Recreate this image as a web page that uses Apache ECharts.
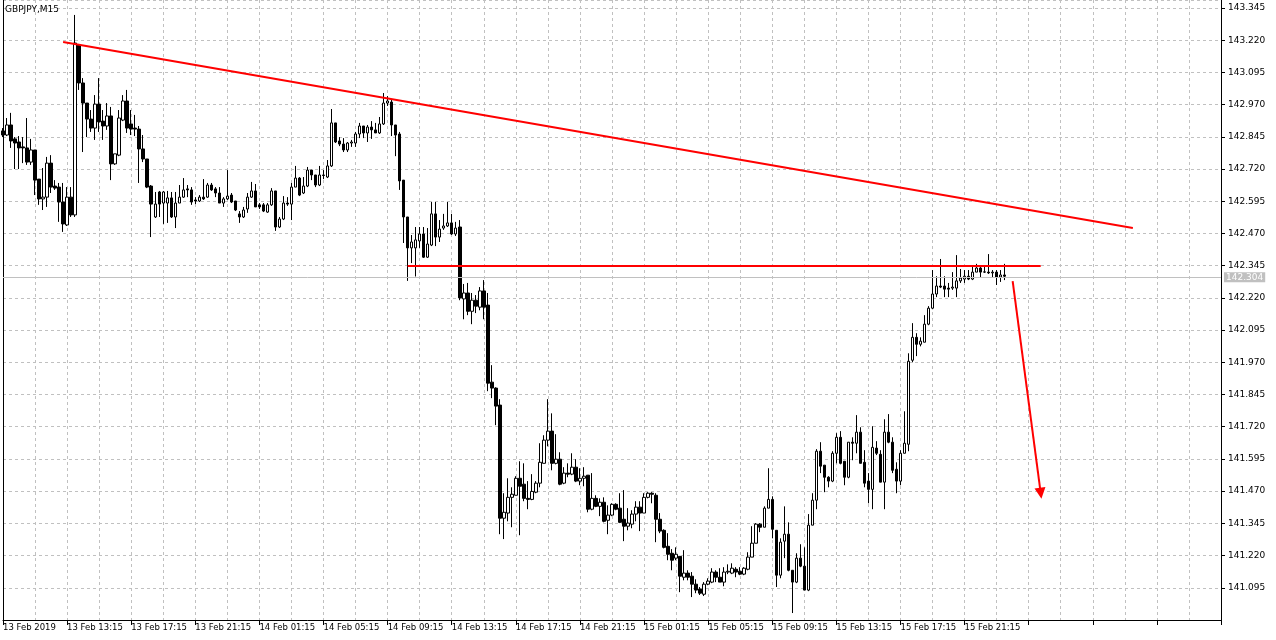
<!DOCTYPE html>
<html>
<head>
<meta charset="utf-8">
<script src="https://cdn.jsdelivr.net/npm/echarts@6/dist/echarts.min.js"></script>
<style>
html,body{margin:0;padding:0;background:#fff;}
#chart{width:1276px;height:640px;}
</style>
</head>
<body>
<div id="chart"></div>
<script>
const symbolName = 'GBPJPY,M15';
const tickLabels = ["13 Feb 2019","13 Feb 13:15","13 Feb 17:15","13 Feb 21:15","14 Feb 01:15","14 Feb 05:15","14 Feb 09:15","14 Feb 13:15","14 Feb 17:15","14 Feb 21:15","15 Feb 01:15","15 Feb 05:15","15 Feb 09:15","15 Feb 13:15","15 Feb 17:15","15 Feb 21:15"];
const barsPerLabel = 16;
const barsPerGrid = 8;
const totalSlots = 305;
const yMin = 140.970, yMax = 143.376, yStep = 0.125;

const open = [142.868,142.852,142.891,142.837,142.825,142.806,142.802,142.747,142.794,142.681,142.604,142.611,142.743,142.654,142.650,142.592,142.503,142.611,142.542,143.201,143.054,142.976,142.914,142.879,142.972,142.906,142.887,142.926,142.740,142.774,142.910,142.984,142.895,142.879,142.875,142.798,142.759,142.654,142.534,142.631,142.588,142.588,142.608,142.534,142.588,142.611,142.643,142.639,142.600,142.596,142.611,142.611,142.658,142.643,142.627,142.588,142.604,142.619,142.596,142.546,142.534,142.565,142.611,142.635,142.581,142.581,142.553,142.581,142.635,142.495,142.526,142.588,142.584,142.650,142.685,142.627,142.654,142.716,142.697,142.658,142.697,142.689,142.732,142.899,142.829,142.817,142.794,142.821,142.821,142.856,142.887,142.860,142.883,142.872,142.860,142.895,142.976,142.980,142.891,142.856,142.677,142.534,142.414,142.414,142.441,142.468,142.378,142.425,142.546,142.456,142.491,142.499,142.511,142.468,142.495,142.216,142.239,142.168,142.211,142.184,142.247,142.192,141.893,141.870,141.804,141.365,141.385,141.446,141.454,141.520,141.497,141.442,141.438,141.466,141.501,141.578,141.668,141.703,141.578,141.594,141.501,141.540,141.536,141.563,141.509,141.520,141.532,141.400,141.442,141.411,141.427,141.357,141.377,141.419,141.404,141.361,141.334,141.342,141.381,141.408,141.385,141.446,141.462,141.454,141.361,141.318,141.256,141.229,141.210,141.217,141.136,141.152,141.140,141.109,141.090,141.070,141.109,141.117,141.156,141.136,141.117,141.156,141.152,141.167,141.159,141.148,141.167,141.214,141.268,141.342,141.330,141.404,141.438,141.318,141.144,141.276,141.303,141.163,141.117,141.210,141.179,141.086,141.338,141.435,141.625,141.571,141.524,141.509,141.617,141.679,141.586,141.524,141.660,141.656,141.699,141.582,141.509,141.477,141.637,141.613,141.505,141.699,141.660,141.555,141.509,141.617,141.652,141.978,142.067,142.040,142.048,142.118,142.180,142.235,142.266,142.266,142.258,142.258,142.258,142.286,142.293,142.304,142.293,142.320,142.336,142.320,142.320,142.317,142.320,142.301,142.309];
const close = [142.852,142.891,142.829,142.821,142.802,142.802,142.747,142.794,142.677,142.604,142.611,142.743,142.650,142.646,142.592,142.507,142.611,142.542,143.209,143.054,142.976,142.914,142.879,142.972,142.903,142.887,142.926,142.740,142.779,142.918,142.984,142.879,142.875,142.875,142.798,142.759,142.650,142.584,142.584,142.584,142.631,142.608,142.534,142.588,142.611,142.639,142.639,142.592,142.596,142.611,142.604,142.658,142.639,142.627,142.588,142.604,142.615,142.592,142.561,142.534,142.561,142.611,142.635,142.573,142.573,142.557,142.581,142.635,142.495,142.526,142.588,142.584,142.650,142.685,142.619,142.654,142.716,142.697,142.658,142.697,142.695,142.732,142.899,142.825,142.817,142.794,142.821,142.825,142.856,142.887,142.860,142.883,142.872,142.860,142.895,142.976,142.984,142.891,142.852,142.674,142.534,142.414,142.437,142.445,142.468,142.378,142.429,142.546,142.456,142.487,142.499,142.511,142.468,142.491,142.220,142.239,142.168,142.211,142.188,142.247,142.184,141.889,141.870,141.800,141.365,141.388,141.446,141.458,141.520,141.489,141.442,141.438,141.469,141.501,141.582,141.668,141.703,141.578,141.594,141.497,141.540,141.536,141.563,141.509,141.520,141.528,141.400,141.442,141.411,141.427,141.353,141.377,141.419,141.400,141.349,141.334,141.346,141.381,141.408,141.385,141.446,141.462,141.458,141.361,141.315,141.252,141.225,141.202,141.225,141.140,141.152,141.136,141.109,141.086,141.074,141.109,141.121,141.156,141.136,141.117,141.156,141.159,141.171,141.156,141.148,141.171,141.214,141.268,141.342,141.330,141.404,141.438,141.322,141.144,141.272,141.303,141.163,141.117,141.210,141.179,141.086,141.338,141.435,141.625,141.567,141.524,141.509,141.617,141.679,141.578,141.524,141.660,141.656,141.699,141.578,141.501,141.477,141.640,141.617,141.505,141.699,141.660,141.551,141.509,141.617,141.656,141.974,142.067,142.040,142.052,142.118,142.180,142.235,142.266,142.262,142.254,142.254,142.262,142.286,142.297,142.304,142.293,142.320,142.336,142.320,142.321,142.317,142.320,142.301,142.309,142.304];
const high = [142.879,142.918,142.938,142.844,142.848,142.844,142.918,142.837,142.794,142.681,142.724,142.767,142.774,142.677,142.666,142.666,142.650,142.650,143.318,143.201,143.073,142.976,142.949,143.007,143.073,142.949,142.976,142.961,142.779,142.949,143.007,143.027,142.949,142.930,142.887,142.852,142.759,142.658,142.631,142.635,142.635,142.635,142.631,142.631,142.658,142.685,142.658,142.650,142.611,142.619,142.681,142.666,142.666,142.650,142.650,142.611,142.716,142.627,142.596,142.557,142.573,142.627,142.670,142.662,142.588,142.588,142.588,142.646,142.635,142.534,142.615,142.611,142.666,142.732,142.689,142.689,142.728,142.716,142.697,142.732,142.716,142.755,142.953,142.899,142.844,142.840,142.825,142.833,142.864,142.899,142.887,142.891,142.906,142.899,142.922,143.015,143.003,142.988,142.891,142.864,142.677,142.534,142.464,142.495,142.495,142.495,142.491,142.592,142.592,142.522,142.546,142.592,142.546,142.515,142.522,142.274,142.278,142.239,142.231,142.262,142.289,142.239,141.959,141.873,141.827,141.462,141.520,141.485,141.528,141.586,141.578,141.509,141.536,141.509,141.656,141.687,141.827,141.772,141.691,141.621,141.563,141.578,141.617,141.594,141.559,141.563,141.532,141.540,141.454,141.442,141.446,141.415,141.423,141.423,141.462,141.474,141.404,141.396,141.431,141.431,141.462,141.466,141.466,141.462,141.385,141.322,141.307,141.245,141.252,141.217,141.241,141.163,141.156,141.128,141.098,141.117,141.132,141.171,141.163,141.171,141.175,141.186,141.190,141.175,141.175,141.175,141.233,141.334,141.346,141.346,141.411,141.559,141.450,141.318,141.287,141.411,141.349,141.163,141.229,141.264,141.252,141.381,141.462,141.633,141.660,141.571,141.528,141.625,141.695,141.703,141.586,141.660,141.679,141.765,141.718,141.629,141.540,141.722,141.664,141.629,141.749,141.769,141.679,141.582,141.629,141.780,142.005,142.122,142.083,142.067,142.153,142.188,142.328,142.304,142.371,142.304,142.278,142.320,142.386,142.332,142.328,142.328,142.340,142.352,142.340,142.340,142.390,142.328,142.328,142.328,142.352];
const low = [142.844,142.848,142.802,142.720,142.720,142.743,142.736,142.736,142.619,142.581,142.561,142.573,142.627,142.639,142.515,142.476,142.499,142.534,142.534,143.027,142.786,142.844,142.864,142.833,142.864,142.833,142.872,142.677,142.736,142.770,142.906,142.860,142.852,142.848,142.666,142.747,142.646,142.456,142.530,142.534,142.507,142.511,142.530,142.491,142.588,142.608,142.611,142.581,142.584,142.592,142.600,142.608,142.635,142.611,142.588,142.573,142.600,142.588,142.557,142.511,142.530,142.550,142.608,142.573,142.565,142.553,142.550,142.577,142.480,142.491,142.522,142.577,142.522,142.650,142.615,142.623,142.650,142.677,142.650,142.654,142.681,142.685,142.728,142.821,142.809,142.786,142.786,142.806,142.806,142.840,142.840,142.825,142.837,142.860,142.856,142.891,142.965,142.848,142.770,142.639,142.433,142.286,142.355,142.303,142.414,142.375,142.375,142.421,142.421,142.437,142.484,142.495,142.464,142.460,142.211,142.137,142.153,142.118,142.161,142.172,142.137,141.858,141.831,141.726,141.303,141.284,141.353,141.330,141.454,141.299,141.431,141.400,141.435,141.462,141.485,141.578,141.644,141.551,141.574,141.493,141.497,141.524,141.532,141.505,141.493,141.489,141.388,141.396,141.408,141.373,141.349,141.303,141.373,141.396,141.346,141.276,141.318,141.326,141.353,141.315,141.385,141.442,141.423,141.272,141.307,141.248,141.202,141.163,141.202,141.078,141.124,141.124,141.059,141.074,141.067,141.063,141.105,141.113,141.117,141.117,141.101,141.148,141.148,141.136,141.144,141.144,141.163,141.214,141.268,141.311,141.330,141.404,141.287,141.098,141.132,141.210,141.159,140.997,141.113,141.175,141.086,141.082,141.338,141.400,141.540,141.466,141.485,141.505,141.578,141.574,141.493,141.520,141.590,141.617,141.578,141.485,141.423,141.400,141.610,141.505,141.400,141.656,141.540,141.462,141.493,141.617,141.625,141.970,141.994,142.032,142.048,142.114,142.176,142.223,142.258,142.223,142.223,142.251,142.223,142.278,142.278,142.289,142.289,142.320,142.301,142.317,142.313,142.301,142.270,142.282,142.289];

// annotations: [barIndex, price]
const trendLine = [[15, 143.213], [282, 142.491]];
const levelLine = [[101, 142.345], [259, 142.345]];
const arrowLine = [[252, 142.285], [259, 141.462]];
const bidPrice = 142.304;

const FONT = 'DejaVu Sans';
const categories = Array.from({length: totalSlots}, (_, i) => String(i));
const candles = open.map((o, i) => [o, close[i], low[i], high[i]]);

const chart = echarts.init(document.getElementById('chart'), null, {renderer: 'canvas'});
const red = {color: '#ff0000', width: 2, type: 'solid'};
chart.setOption({
  animation: false,
  backgroundColor: '#ffffff',
  title: {
    text: symbolName, left: 0, top: 0,
    textStyle: {fontFamily: FONT, fontSize: 9, fontWeight: 'normal', color: '#000'}
  },
  grid: {left: 3, right: 55, top: 0, bottom: 20, show: false},
  xAxis: {
    type: 'category', data: categories, boundaryGap: false,
    axisLine: {lineStyle: {color: '#000', width: 1}},
    axisTick: {show: true, interval: (i) => i % barsPerLabel === 0, length: 5, lineStyle: {color: '#000'}},
    axisLabel: {
      interval: (i) => i % barsPerLabel === 0 && i / barsPerLabel < tickLabels.length,
      formatter: (v) => tickLabels[Number(v) / barsPerLabel] || '',
      align: 'left', margin: 3, fontFamily: FONT, fontSize: 8.5, color: '#000'
    },
    splitLine: {show: true, interval: (i) => i % barsPerGrid === 0 && i > 0, lineStyle: {color: '#c0c0c0', type: [3, 3], width: 1}}
  },
  yAxis: [{
    type: 'value', position: 'right', min: yMin, max: yMax, interval: yStep, scale: true,
    axisLine: {show: true, lineStyle: {color: '#000', width: 1}},
    axisTick: {show: true, length: 4, lineStyle: {color: '#000'}},
    axisLabel: {
      showMinLabel: false, showMaxLabel: false, margin: 7,
      formatter: (v) => v.toFixed(3), fontFamily: FONT, fontSize: 9, color: '#000'
    },
    splitLine: {show: true, lineStyle: {color: '#c0c0c0', type: [3, 3], width: 1}}
  }, {
    type: 'value', position: 'left', min: yMin, max: yMax, show: true,
    axisLine: {show: true, lineStyle: {color: '#000', width: 1}},
    axisTick: {show: false}, axisLabel: {show: false}, splitLine: {show: false}
  }],
  series: [{
    type: 'candlestick',
    data: candles,
    barWidth: 3,
    itemStyle: {color: '#ffffff', color0: '#000000', borderColor: '#000000', borderColor0: '#000000', borderWidth: 1},
    markLine: {
      silent: true, animation: false, symbol: ['none', 'none'],
      label: {show: false},
      data: [
        {
          yAxis: bidPrice,
          lineStyle: {color: '#c0c0c0', width: 1, type: 'solid'},
          label: {
            show: true, position: 'end', distance: 3, formatter: bidPrice.toFixed(3),
            backgroundColor: '#c0c0c0', color: '#ffffff', fontFamily: FONT, fontSize: 9, padding: [1, 2, 0, 2]
          }
        },
        [{coord: trendLine[0], lineStyle: red}, {coord: trendLine[1]}],
        [{coord: levelLine[0], lineStyle: red}, {coord: levelLine[1]}],
        [{coord: arrowLine[0], lineStyle: red, symbol: 'none'}, {coord: arrowLine[1], symbol: 'triangle', symbolSize: [11, 11]}]
      ]
    }
  }]
});
</script>
</body>
</html>
